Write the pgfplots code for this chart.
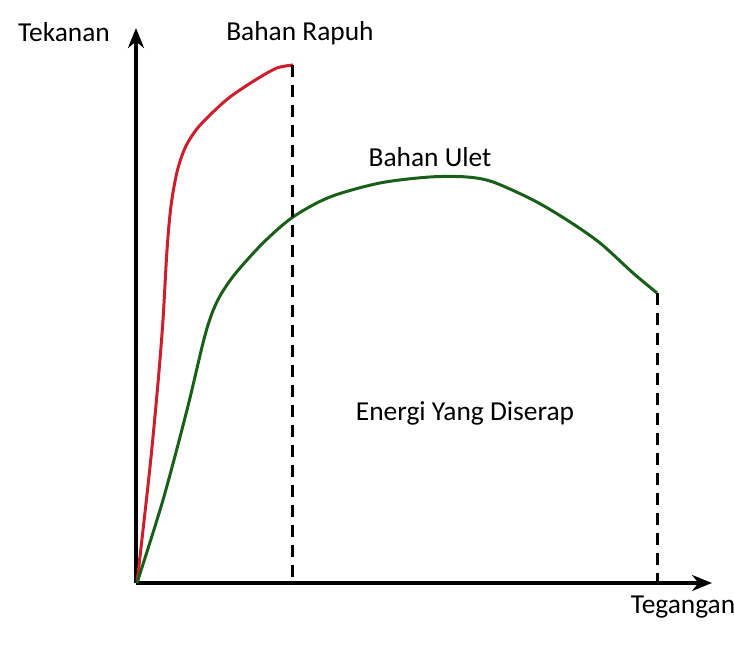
\documentclass[border=0pt]{standalone}
\usepackage{pgfplots}
\pgfplotsset{compat=1.18}
\usepackage{fontspec}
\setmainfont{Carlito}
\usetikzlibrary{arrows.meta}
\definecolor{brittle}{RGB}{205,30,45}
\definecolor{ductile}{RGB}{25,95,25}
\newcommand{\lbl}{\fontsize{13.7}{16}\selectfont}
\begin{document}
\begin{tikzpicture}
\begin{axis}[
  x=0.5pt, y=0.5pt,
  xmin=136, xmax=712, ymin=63, ymax=618,
  axis lines*=left,
  ticks=none,
  clip=false,
  x axis line style={line width=1.8pt, -{Stealth[length=10pt,width=8pt]}},
  y axis line style={line width=1.8pt, -{Stealth[length=10pt,width=8pt]}},
]
\coordinate (bl) at (axis cs:0,0);
\coordinate (tr) at (axis cs:734,646);
% red (brittle)  -- y = 646 - image y
\addplot[brittle, line width=1.5pt, smooth, tension=0.5] coordinates {
(137,63)(150,179)(158,263)(163,326)(167,396)(171,440)(177,474)(185,498)(196,516)(210,531)(230,549)(257,567)(277,578)(293,581)};
% green (ductile)
\addplot[ductile, line width=1.5pt, smooth, tension=0.5] coordinates {
(137,63)(163,146)(187,236)(203,303)(211,330)(220,350)(235,372)(263,403)(293,429)(330,449)(380,463)(430,469)(467,469)(493,464)(533,446)(567,426)(600,403)(633,373)(657,353)};
% dashed drops
\addplot[black, line width=1.5pt, dash pattern=on 6pt off 4pt] coordinates {(293,581)(293,63)};
\addplot[black, line width=1.5pt, dash pattern=on 6pt off 4pt] coordinates {(657,353)(657,63)};
\node[font=\lbl] at (axis cs:64,614) {Tekanan};
\node[font=\lbl] at (axis cs:300,613) {Bahan Rapuh};
\node[font=\lbl] at (axis cs:430,489) {Bahan Ulet};
\node[font=\lbl] at (axis cs:465,233) {Energi Yang Diserap};
\node[font=\lbl] at (axis cs:683,39) {Tegangan};
\end{axis}
\pgfresetboundingbox
\path (bl) rectangle (tr);
\end{tikzpicture}
\end{document}
